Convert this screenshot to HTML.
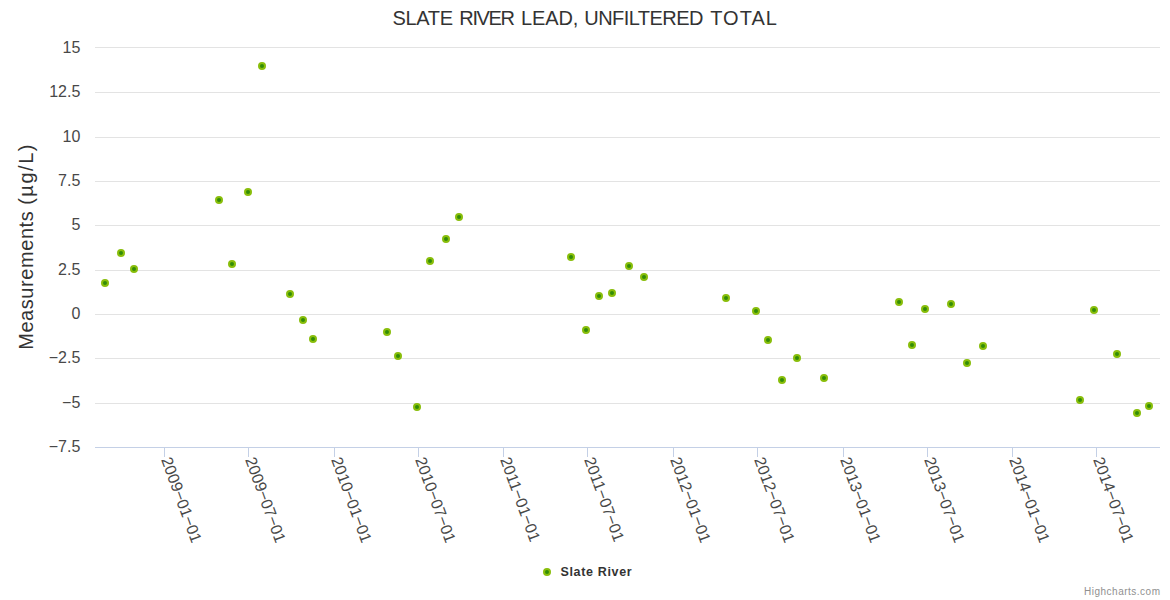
<!DOCTYPE html>
<html><head><meta charset="utf-8"><title>Slate River Lead</title>
<style>html,body{margin:0;padding:0;background:#fff;width:1170px;height:600px;overflow:hidden;}</style>
</head><body>
<svg width="1170" height="600" viewBox="0 0 1170 600" style="display:block">
<rect x="0" y="0" width="1170" height="600" fill="#ffffff"/>
<rect x="95" y="47" width="1065" height="1" fill="#e3e3e3"/>
<rect x="95" y="92" width="1065" height="1" fill="#e3e3e3"/>
<rect x="95" y="137" width="1065" height="1" fill="#e3e3e3"/>
<rect x="95" y="181" width="1065" height="1" fill="#e3e3e3"/>
<rect x="95" y="225" width="1065" height="1" fill="#e3e3e3"/>
<rect x="95" y="270" width="1065" height="1" fill="#e3e3e3"/>
<rect x="95" y="314" width="1065" height="1" fill="#e3e3e3"/>
<rect x="95" y="358" width="1065" height="1" fill="#e3e3e3"/>
<rect x="95" y="403" width="1065" height="1" fill="#e3e3e3"/>
<rect x="95" y="447" width="1065" height="1" fill="#c4d0e6"/>
<rect x="164" y="448" width="1" height="9" fill="#c4d0e6"/>
<rect x="248" y="448" width="1" height="9" fill="#c4d0e6"/>
<rect x="334" y="448" width="1" height="9" fill="#c4d0e6"/>
<rect x="418" y="448" width="1" height="9" fill="#c4d0e6"/>
<rect x="503" y="448" width="1" height="9" fill="#c4d0e6"/>
<rect x="587" y="448" width="1" height="9" fill="#c4d0e6"/>
<rect x="673" y="448" width="1" height="9" fill="#c4d0e6"/>
<rect x="757" y="448" width="1" height="9" fill="#c4d0e6"/>
<rect x="843" y="448" width="1" height="9" fill="#c4d0e6"/>
<rect x="927" y="448" width="1" height="9" fill="#c4d0e6"/>
<rect x="1012" y="448" width="1" height="9" fill="#c4d0e6"/>
<rect x="1096" y="448" width="1" height="9" fill="#c4d0e6"/>
<text x="80.3" y="52.7" text-anchor="end" font-family='"Liberation Sans", sans-serif' font-size="16" fill="#484848">15</text>
<text x="80.3" y="96.7" text-anchor="end" font-family='"Liberation Sans", sans-serif' font-size="16" fill="#484848">12.5</text>
<text x="80.3" y="141.7" text-anchor="end" font-family='"Liberation Sans", sans-serif' font-size="16" fill="#484848">10</text>
<text x="80.3" y="185.7" text-anchor="end" font-family='"Liberation Sans", sans-serif' font-size="16" fill="#484848">7.5</text>
<text x="80.3" y="229.7" text-anchor="end" font-family='"Liberation Sans", sans-serif' font-size="16" fill="#484848">5</text>
<text x="80.3" y="274.7" text-anchor="end" font-family='"Liberation Sans", sans-serif' font-size="16" fill="#484848">2.5</text>
<text x="80.3" y="318.7" text-anchor="end" font-family='"Liberation Sans", sans-serif' font-size="16" fill="#484848">0</text>
<text x="80.3" y="362.7" text-anchor="end" font-family='"Liberation Sans", sans-serif' font-size="16" fill="#484848">−2.5</text>
<text x="80.3" y="407.7" text-anchor="end" font-family='"Liberation Sans", sans-serif' font-size="16" fill="#484848">−5</text>
<text x="80.3" y="451.7" text-anchor="end" font-family='"Liberation Sans", sans-serif' font-size="16" fill="#484848">−7.5</text>
<text x="-349.84" y="0" transform="translate(33 0) rotate(-90)" font-family='"Liberation Sans", sans-serif' font-size="20" letter-spacing="0.572" fill="#333333">Measurements</text>
<text x="-204.84" y="0" transform="translate(33 0) rotate(-90)" font-family='"Liberation Sans", sans-serif' font-size="20" letter-spacing="1.527" fill="#333333">(µg/L)</text>
<text x="392.59" y="25" font-family='"Liberation Sans", sans-serif' font-size="20" letter-spacing="-0.348" fill="#333333">SLATE</text>
<text x="459.36" y="25" font-family='"Liberation Sans", sans-serif' font-size="20" letter-spacing="-1.389" fill="#333333">RIVER</text>
<text x="520.96" y="25" font-family='"Liberation Sans", sans-serif' font-size="20" letter-spacing="-0.116" fill="#333333">LEAD,</text>
<text x="584.36" y="25" font-family='"Liberation Sans", sans-serif' font-size="20" letter-spacing="-0.563" fill="#333333">UNFILTERED</text>
<text x="710.15" y="25" font-family='"Liberation Sans", sans-serif' font-size="20" letter-spacing="1.040" fill="#333333">TOTAL</text>
<text x="0" y="0" transform="translate(161 459.5) rotate(70)" font-family='"Liberation Sans", sans-serif' font-size="16" letter-spacing="0" fill="#484848">2009−01−01</text>
<text x="0" y="0" transform="translate(245 459.5) rotate(70)" font-family='"Liberation Sans", sans-serif' font-size="16" letter-spacing="0" fill="#484848">2009−07−01</text>
<text x="0" y="0" transform="translate(331 459.5) rotate(70)" font-family='"Liberation Sans", sans-serif' font-size="16" letter-spacing="0" fill="#484848">2010−01−01</text>
<text x="0" y="0" transform="translate(415 459.5) rotate(70)" font-family='"Liberation Sans", sans-serif' font-size="16" letter-spacing="0" fill="#484848">2010−07−01</text>
<text x="0" y="0" transform="translate(500 459.5) rotate(70)" font-family='"Liberation Sans", sans-serif' font-size="16" letter-spacing="0" fill="#484848">2011−01−01</text>
<text x="0" y="0" transform="translate(584 459.5) rotate(70)" font-family='"Liberation Sans", sans-serif' font-size="16" letter-spacing="0" fill="#484848">2011−07−01</text>
<text x="0" y="0" transform="translate(670 459.5) rotate(70)" font-family='"Liberation Sans", sans-serif' font-size="16" letter-spacing="0" fill="#484848">2012−01−01</text>
<text x="0" y="0" transform="translate(754 459.5) rotate(70)" font-family='"Liberation Sans", sans-serif' font-size="16" letter-spacing="0" fill="#484848">2012−07−01</text>
<text x="0" y="0" transform="translate(840 459.5) rotate(70)" font-family='"Liberation Sans", sans-serif' font-size="16" letter-spacing="0" fill="#484848">2013−01−01</text>
<text x="0" y="0" transform="translate(924 459.5) rotate(70)" font-family='"Liberation Sans", sans-serif' font-size="16" letter-spacing="0" fill="#484848">2013−07−01</text>
<text x="0" y="0" transform="translate(1009 459.5) rotate(70)" font-family='"Liberation Sans", sans-serif' font-size="16" letter-spacing="0" fill="#484848">2014−01−01</text>
<text x="0" y="0" transform="translate(1093 459.5) rotate(70)" font-family='"Liberation Sans", sans-serif' font-size="16" letter-spacing="0" fill="#484848">2014−07−01</text>
<circle cx="105" cy="283" r="3" fill="#328c08" stroke="#89be0b" stroke-width="2"/>
<circle cx="121" cy="253" r="3" fill="#328c08" stroke="#89be0b" stroke-width="2"/>
<circle cx="134" cy="269" r="3" fill="#328c08" stroke="#89be0b" stroke-width="2"/>
<circle cx="219" cy="200" r="3" fill="#328c08" stroke="#89be0b" stroke-width="2"/>
<circle cx="232" cy="264" r="3" fill="#328c08" stroke="#89be0b" stroke-width="2"/>
<circle cx="248" cy="192" r="3" fill="#328c08" stroke="#89be0b" stroke-width="2"/>
<circle cx="262" cy="66" r="3" fill="#328c08" stroke="#89be0b" stroke-width="2"/>
<circle cx="290" cy="294" r="3" fill="#328c08" stroke="#89be0b" stroke-width="2"/>
<circle cx="303" cy="320" r="3" fill="#328c08" stroke="#89be0b" stroke-width="2"/>
<circle cx="313" cy="339" r="3" fill="#328c08" stroke="#89be0b" stroke-width="2"/>
<circle cx="387" cy="332" r="3" fill="#328c08" stroke="#89be0b" stroke-width="2"/>
<circle cx="398" cy="356" r="3" fill="#328c08" stroke="#89be0b" stroke-width="2"/>
<circle cx="417" cy="407" r="3" fill="#328c08" stroke="#89be0b" stroke-width="2"/>
<circle cx="430" cy="261" r="3" fill="#328c08" stroke="#89be0b" stroke-width="2"/>
<circle cx="446" cy="239" r="3" fill="#328c08" stroke="#89be0b" stroke-width="2"/>
<circle cx="459" cy="217" r="3" fill="#328c08" stroke="#89be0b" stroke-width="2"/>
<circle cx="571" cy="257" r="3" fill="#328c08" stroke="#89be0b" stroke-width="2"/>
<circle cx="586" cy="330" r="3" fill="#328c08" stroke="#89be0b" stroke-width="2"/>
<circle cx="599" cy="296" r="3" fill="#328c08" stroke="#89be0b" stroke-width="2"/>
<circle cx="612" cy="293" r="3" fill="#328c08" stroke="#89be0b" stroke-width="2"/>
<circle cx="629" cy="266" r="3" fill="#328c08" stroke="#89be0b" stroke-width="2"/>
<circle cx="644" cy="277" r="3" fill="#328c08" stroke="#89be0b" stroke-width="2"/>
<circle cx="726" cy="298" r="3" fill="#328c08" stroke="#89be0b" stroke-width="2"/>
<circle cx="756" cy="311" r="3" fill="#328c08" stroke="#89be0b" stroke-width="2"/>
<circle cx="768" cy="340" r="3" fill="#328c08" stroke="#89be0b" stroke-width="2"/>
<circle cx="782" cy="380" r="3" fill="#328c08" stroke="#89be0b" stroke-width="2"/>
<circle cx="797" cy="358" r="3" fill="#328c08" stroke="#89be0b" stroke-width="2"/>
<circle cx="824" cy="378" r="3" fill="#328c08" stroke="#89be0b" stroke-width="2"/>
<circle cx="899" cy="302" r="3" fill="#328c08" stroke="#89be0b" stroke-width="2"/>
<circle cx="912" cy="345" r="3" fill="#328c08" stroke="#89be0b" stroke-width="2"/>
<circle cx="925" cy="309" r="3" fill="#328c08" stroke="#89be0b" stroke-width="2"/>
<circle cx="951" cy="304" r="3" fill="#328c08" stroke="#89be0b" stroke-width="2"/>
<circle cx="967" cy="363" r="3" fill="#328c08" stroke="#89be0b" stroke-width="2"/>
<circle cx="983" cy="346" r="3" fill="#328c08" stroke="#89be0b" stroke-width="2"/>
<circle cx="1080" cy="400" r="3" fill="#328c08" stroke="#89be0b" stroke-width="2"/>
<circle cx="1094" cy="310" r="3" fill="#328c08" stroke="#89be0b" stroke-width="2"/>
<circle cx="1117" cy="354" r="3" fill="#328c08" stroke="#89be0b" stroke-width="2"/>
<circle cx="1137" cy="413" r="3" fill="#328c08" stroke="#89be0b" stroke-width="2"/>
<circle cx="1149" cy="406" r="3" fill="#328c08" stroke="#89be0b" stroke-width="2"/>
<circle cx="547" cy="572" r="3" fill="#328c08" stroke="#89be0b" stroke-width="2"/>
<text x="560.5" y="576" font-family='"Liberation Sans", sans-serif' font-size="12.5" font-weight="bold" letter-spacing="0.65" fill="#333333">Slate River</text>
<text x="1160.5" y="595" text-anchor="end" font-family='"Liberation Sans", sans-serif' font-size="10" letter-spacing="0.5" fill="#909090">Highcharts.com</text>
</svg>
</body></html>
